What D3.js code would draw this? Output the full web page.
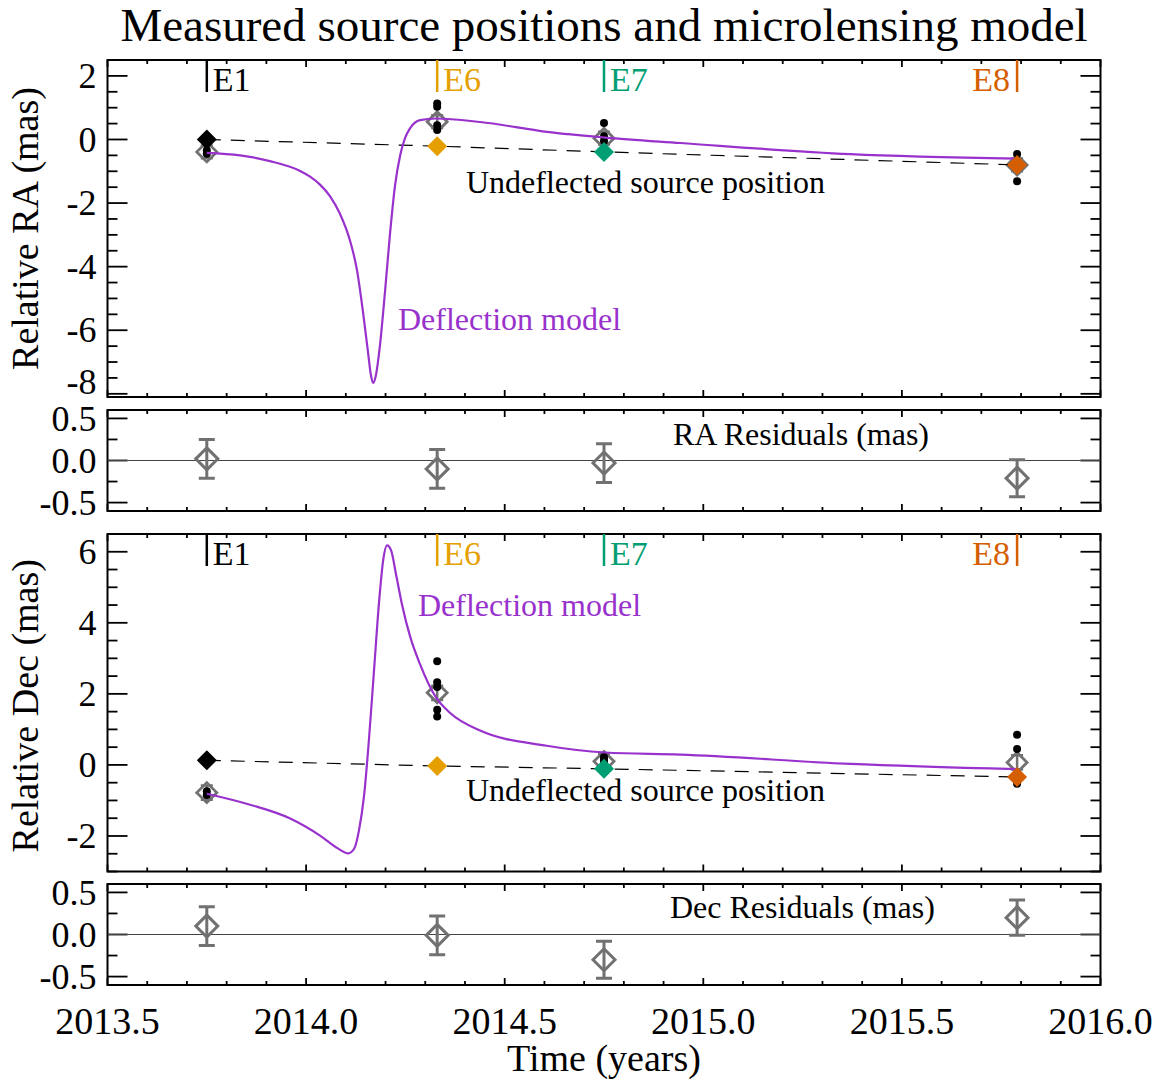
<!DOCTYPE html>
<html>
<head>
<meta charset="utf-8">
<script src="https://cdn.jsdelivr.net/npm/d3@7"></script>
<style>
  body { margin: 0; background: #fff; }
  text { font-family: "Liberation Serif", "Times New Roman", serif; }
</style>
</head>
<body>
<svg id="chart" width="1163" height="1082"></svg>
<script>
// ---- Epochs -------------------------------------------------------------
const epochNames  = ["E1", "E6", "E7", "E8"];
const epochTimes  = [2013.75, 2014.33, 2014.75, 2015.79];
const epochColors = ["#000000", "#E69F00", "#009E73", "#D55E00"];

// ---- RA (mas) -------------------------------------------------------------
const raUndeflected = [0.0, -0.21, -0.39, -0.80];
const raMeasured    = [-0.39, 0.56, 0.04, -0.80];
const raMeasuredErr = [0.2, 0.2, 0.2, 0.2];
const raSingle = [
  [-0.34, -0.45],
  [1.13, 1.03, 0.45, 0.30],
  [0.52, 0.10, -0.05],
  [-0.46, -0.70, -0.90, -1.31]
];
const raModelT = [2013.750, 2013.834, 2013.909, 2013.985, 2014.010, 2014.035, 2014.060, 2014.085,
                  2014.111, 2014.128, 2014.143, 2014.156, 2014.163, 2014.169, 2014.176, 2014.186,
                  2014.199, 2014.211, 2014.224, 2014.237, 2014.249, 2014.262, 2014.287, 2014.327,
                  2014.438, 2014.606, 2014.753, 2014.942, 2015.370, 2015.790];
const raModelV = [-0.42, -0.50, -0.68, -0.99, -1.17, -1.42, -1.78, -2.33,
                  -3.20, -4.10, -5.40, -6.70, -7.40, -7.66, -7.40, -6.47,
                  -4.74, -3.00, -1.44, -0.49, 0.04, 0.36, 0.61, 0.66,
                  0.55, 0.24, 0.06, -0.11, -0.46, -0.60];
const raResid    = [0.02, -0.10, -0.03, -0.21];
const raResidErr = [0.23, 0.23, 0.23, 0.22];

// ---- Dec (mas) ------------------------------------------------------------
const decUndeflected = [0.13, -0.03, -0.11, -0.34];
const decMeasured    = [-0.78, 2.03, 0.10, 0.07];
const decMeasuredErr = [0.2, 0.2, 0.2, 0.2];
const decSingle = [
  [-0.74, -0.85],
  [2.92, 2.33, 2.19, 1.55, 1.36],
  [0.22, 0.15, 0.08],
  [0.85, 0.45, -0.35, -0.53]
];
const decModelT = [2013.750, 2013.859, 2013.960, 2014.035, 2014.080, 2014.106, 2014.121, 2014.133,
                   2014.146, 2014.158, 2014.171, 2014.184, 2014.194, 2014.204, 2014.214, 2014.227,
                   2014.242, 2014.262, 2014.287, 2014.327, 2014.362, 2014.438, 2014.606, 2014.753,
                   2014.942, 2015.370, 2015.790];
const decModelV = [-0.81, -1.12, -1.51, -1.99, -2.35, -2.49, -2.36, -1.85,
                   -0.86, 0.68, 2.66, 4.63, 5.76, 6.18, 6.04, 5.33,
                   4.49, 3.61, 2.83, 1.90, 1.47, 0.97, 0.54, 0.35,
                   0.29, 0.03, -0.12];
const decResid    = [0.10, -0.01, -0.30, 0.20];
const decResidErr = [0.23, 0.23, 0.22, 0.21];

// ---- Axis ticks ---------------------------------------------------------
const xTickLabels  = ["2013.5", "2014.0", "2014.5", "2015.0", "2015.5", "2016.0"];
const raTicks      = [2, 0, -2, -4, -6, -8];
const decTicks     = [6, 4, 2, 0, -2];
const residTicks   = [0.5, 0.0, -0.5];

// ---- Layout -------------------------------------------------------------
const svg = d3.select("#chart");
const left = 107.5, right = 1100.5;
const GRAY = "#717171";
const PURPLE = "#9932CC";

const x = d3.scaleLinear().domain([2013.5, 2016.0]).range([left, right]);

const panels = {
  ra:     { top: 60,  bottom: 397,   domain: [-8.1, 2.5], fmt: d3.format("d") },
  raRes:  { top: 410, bottom: 511,   domain: [-0.6, 0.6], fmt: d3.format(".1f") },
  dec:    { top: 534, bottom: 871.5, domain: [-3.0, 6.5], fmt: d3.format("d") },
  decRes: { top: 884, bottom: 985,   domain: [-0.6, 0.6], fmt: d3.format(".1f") }
};
for (const k in panels) {
  const p = panels[k];
  p.y = d3.scaleLinear().domain(p.domain).range([p.bottom, p.top]);
}
// plain hyphen for negative tick values
const hyphen = s => s.replace("\u2212", "-");

// Title
svg.append("text")
  .attr("x", 604).attr("y", 41)
  .attr("text-anchor", "middle")
  .attr("font-size", 47)
  .text("Measured source positions and microlensing model");

// Frame + ticks for a panel (ticks point inward on all four sides)
function drawFrame(p, majorY, minorStep, showX) {
  const g = svg.append("g");
  const xMajor = d3.range(2013.5, 2016.0001, 0.5);
  const xMinor = d3.range(2013.5, 2016.0001, 0.1);
  const [y0, y1] = p.domain;
  const yMinor = d3.range(Math.ceil(y0 / minorStep) * minorStep, y1 + 1e-9, minorStep);

  const tick = (x1, y1_, x2, y2) => g.append("line")
    .attr("x1", x1).attr("y1", y1_).attr("x2", x2).attr("y2", y2)
    .attr("stroke", "#000").attr("stroke-width", 1.8);

  xMinor.forEach(v => {
    const isMajor = xMajor.some(m => Math.abs(m - v) < 1e-6);
    const len = isMajor ? 7 : 4;
    tick(x(v), p.bottom, x(v), p.bottom - len);
    tick(x(v), p.top, x(v), p.top + len);
  });
  yMinor.forEach(v => {
    const isMajor = majorY.some(m => Math.abs(m - v) < 1e-6);
    const len = isMajor ? 20 : 10;
    tick(left, p.y(v), left + len, p.y(v));
    tick(right, p.y(v), right - len, p.y(v));
  });

  g.append("rect")
    .attr("x", left).attr("y", p.top)
    .attr("width", right - left).attr("height", p.bottom - p.top)
    .attr("fill", "none").attr("stroke", "#000").attr("stroke-width", 2);

  // y tick labels; a label sitting right on the lower frame edge is lifted clear of it
  g.selectAll("text.ylab").data(majorY).join("text")
    .attr("x", left - 11)
    .attr("y", d => p.y(d) - (p.bottom - p.y(d) < 8 && p.domain[1] > 1 ? 12 : 0))
    .attr("dy", "0.34em")
    .attr("text-anchor", "end")
    .attr("font-size", 36)
    .text(d => hyphen(p.fmt(d)));

  if (showX) {
    g.selectAll("text.xlab").data(xTickLabels).join("text")
      .attr("x", d => x(+d)).attr("y", p.bottom + 49)
      .attr("text-anchor", "middle")
      .attr("font-size", 38)
      .text(d => d);
  }
}

drawFrame(panels.ra, raTicks, 0.5, false);
drawFrame(panels.raRes, residTicks, 0.25, false);
drawFrame(panels.dec, decTicks, 0.5, false);
drawFrame(panels.decRes, residTicks, 0.25, true);

// Axis titles
svg.append("text")
  .attr("transform", `translate(38,${(panels.ra.top + panels.ra.bottom) / 2}) rotate(-90)`)
  .attr("text-anchor", "middle").attr("font-size", 38)
  .text("Relative RA (mas)");
svg.append("text")
  .attr("transform", `translate(38,${(panels.dec.top + panels.dec.bottom) / 2 + 3}) rotate(-90)`)
  .attr("text-anchor", "middle").attr("font-size", 38)
  .text("Relative Dec (mas)");
svg.append("text")
  .attr("x", 604).attr("y", 1071)
  .attr("text-anchor", "middle").attr("font-size", 38)
  .text("Time (years)");

// Epoch markers along the top of each position panel
function drawEpochLabels(p) {
  epochNames.forEach((name, i) => {
    const xe = x(epochTimes[i]);
    svg.append("line")
      .attr("x1", xe).attr("x2", xe)
      .attr("y1", p.top).attr("y2", p.top + 32)
      .attr("stroke", epochColors[i]).attr("stroke-width", 2.5);
    const last = i === epochNames.length - 1;
    svg.append("text")
      .attr("x", last ? xe - 7 : xe + 6)
      .attr("y", p.top + 31)
      .attr("text-anchor", last ? "end" : "start")
      .attr("font-size", 34)
      .attr("fill", epochColors[i])
      .text(name);
  });
}

const diamond = (cx, cy, r) => `M${cx},${cy - r}L${cx + r},${cy}L${cx},${cy + r}L${cx - r},${cy}Z`;

function drawPositionPanel(p, undefl, measured, measErr, singles, modelT, modelV) {
  const g = svg.append("g");
  const pts = epochTimes.map((t, i) => ({ t, i }));

  // measured epoch means with error bars
  pts.forEach(({ t, i }) => {
    const cx = x(t), cy = p.y(measured[i]);
    const yt = p.y(measured[i] + measErr[i]), yb = p.y(measured[i] - measErr[i]);
    g.append("path")
      .attr("d", `M${cx},${yt}V${yb}M${cx - 6},${yt}H${cx + 6}M${cx - 6},${yb}H${cx + 6}`)
      .attr("stroke", GRAY).attr("stroke-width", 2.5).attr("fill", "none");
    g.append("path").attr("d", diamond(cx, cy, 10))
      .attr("fill", "none").attr("stroke", GRAY).attr("stroke-width", 2.8);
  });

  // individual frame measurements
  pts.forEach(({ t, i }) => {
    g.selectAll(null).data(singles[i]).join("circle")
      .attr("cx", x(t)).attr("cy", d => p.y(d)).attr("r", 4)
      .attr("fill", "#000");
  });

  // undeflected source track
  g.append("path")
    .datum(undefl.map((v, i) => [epochTimes[i], v]))
    .attr("d", d3.line().x(d => x(d[0])).y(d => p.y(d[1])))
    .attr("fill", "none").attr("stroke", "#000").attr("stroke-width", 1.2)
    .attr("stroke-dasharray", "14,10");

  // deflection model
  g.append("path")
    .datum(modelT.map((t, i) => [t, modelV[i]]))
    .attr("d", d3.line().x(d => x(d[0])).y(d => p.y(d[1])).curve(d3.curveMonotoneX))
    .attr("fill", "none").attr("stroke", PURPLE).attr("stroke-width", 2.2);

  // undeflected positions at each epoch
  pts.forEach(({ t, i }) => {
    g.append("path").attr("d", diamond(x(t), p.y(undefl[i]), 10))
      .attr("fill", epochColors[i]);
  });
}

function drawResidualPanel(p, resid, err) {
  const g = svg.append("g");
  g.append("line")
    .attr("x1", left).attr("x2", right)
    .attr("y1", p.y(0)).attr("y2", p.y(0))
    .attr("stroke", "#444").attr("stroke-width", 1.2);
  epochTimes.forEach((t, i) => {
    const cx = x(t), cy = p.y(resid[i]);
    const yt = p.y(resid[i] + err[i]), yb = p.y(resid[i] - err[i]);
    g.append("path")
      .attr("d", `M${cx},${yt}V${yb}M${cx - 8},${yt}H${cx + 8}M${cx - 8},${yb}H${cx + 8}`)
      .attr("stroke", GRAY).attr("stroke-width", 3).attr("fill", "none");
    g.append("path").attr("d", diamond(cx, cy, 11))
      .attr("fill", "none").attr("stroke", GRAY).attr("stroke-width", 3);
  });
}

drawPositionPanel(panels.ra, raUndeflected, raMeasured, raMeasuredErr, raSingle, raModelT, raModelV);
drawPositionPanel(panels.dec, decUndeflected, decMeasured, decMeasuredErr, decSingle, decModelT, decModelV);
drawResidualPanel(panels.raRes, raResid, raResidErr);
drawResidualPanel(panels.decRes, decResid, decResidErr);
drawEpochLabels(panels.ra);
drawEpochLabels(panels.dec);

// In-panel annotations
const note = (txt, xx, yy, size, color) => svg.append("text")
  .attr("x", xx).attr("y", yy).attr("font-size", size).attr("fill", color).text(txt);
note("Undeflected source position", 466, 193, 32, "#000");
note("Deflection model", 398, 330, 32, PURPLE);
note("RA Residuals (mas)", 673, 445, 32, "#000");
note("Deflection model", 418, 616, 32, PURPLE);
note("Undeflected source position", 466, 801, 32, "#000");
note("Dec Residuals (mas)", 670, 918, 32, "#000");
</script>
</body>
</html>
